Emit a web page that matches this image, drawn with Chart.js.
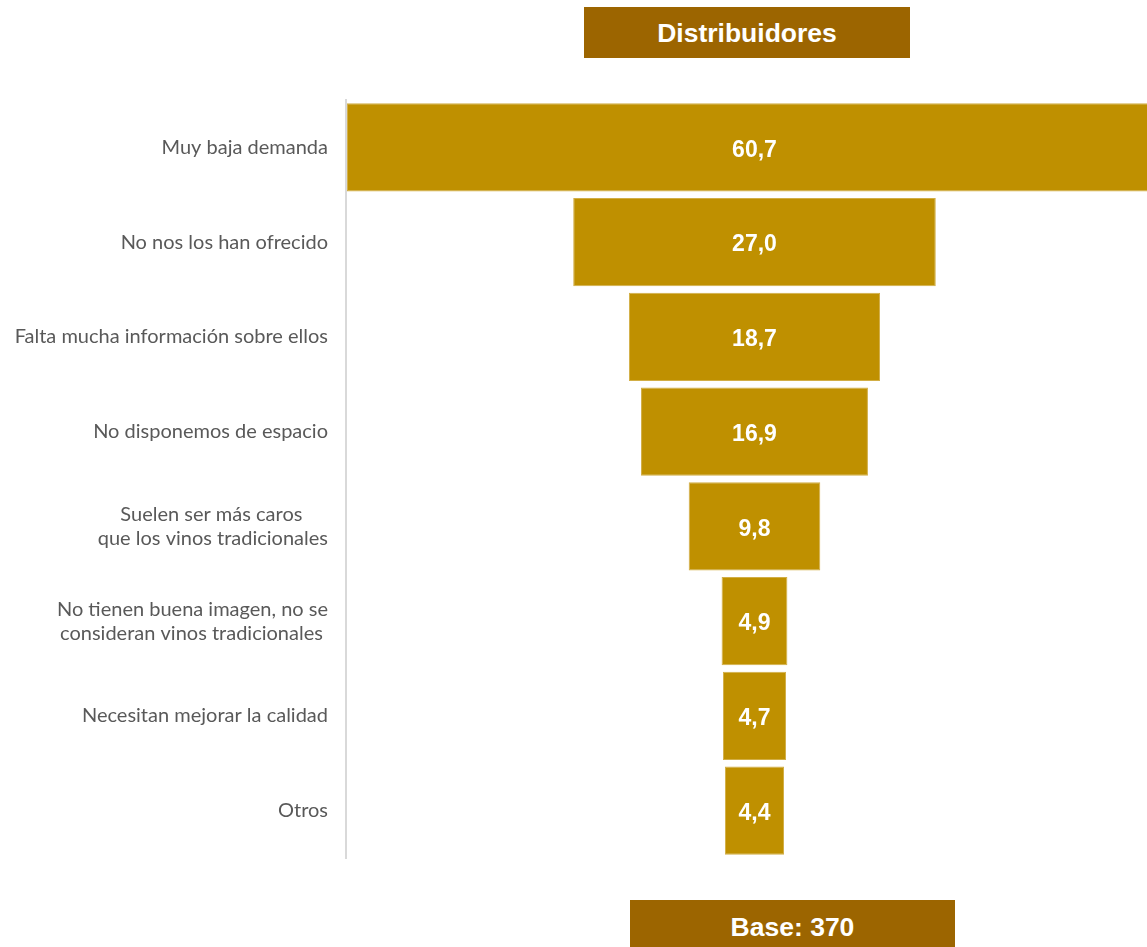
<!DOCTYPE html>
<html>
<head>
<meta charset="utf-8">
<script src="https://cdn.jsdelivr.net/npm/chart.js@4/dist/chart.umd.min.js"></script>
<style>
  html, body { margin:0; padding:0; background:#fff; }
  #wrap { position:relative; width:1147px; height:947px; overflow:hidden; }
  #chart { position:absolute; left:0; top:0; }
  .box { position:absolute; background:#9C6500; color:#fff; font-family:"Liberation Sans", Arial, sans-serif;
         font-weight:bold; text-align:center; }
  #title { left:584px; top:7px; width:326px; height:51px; line-height:53px; font-size:26.5px; }
  #base { left:630px; top:900px; width:325px; height:47px; line-height:54px; font-size:26.5px; }
</style>
</head>
<body>
<div id="wrap">
  <canvas id="chart" width="1147" height="947"></canvas>
  <div class="box" id="title">Distribuidores</div>
  <div class="box" id="base">Base: 370</div>
</div>
<script>
  // razones (Distribuidores), %
  const categories = [
    'Muy baja demanda',
    'No nos los han ofrecido',
    'Falta mucha información sobre ellos',
    'No disponemos de espacio',
    ['Suelen ser más caros     ', 'que los vinos tradicionales'],
    ['No tienen buena imagen, no se', 'consideran vinos tradicionales '],
    'Necesitan mejorar la calidad',
    'Otros'
  ];
  const values = [60.7, 27.0, 18.7, 16.9, 9.8, 4.9, 4.7, 4.4];

  // funnel: each bar centred on zero
  const spans = values.map(v => [-v / 2, v / 2]);

  const valueLabels = {
    id: 'valueLabels',
    afterDatasetsDraw(chart) {
      const ctx = chart.ctx;
      const meta = chart.getDatasetMeta(0);
      ctx.save();
      ctx.fillStyle = '#fff';
      ctx.font = 'bold 23px "Liberation Sans", Arial, sans-serif';
      ctx.textAlign = 'center';
      ctx.textBaseline = 'middle';
      meta.data.forEach((bar, i) => {
        const x = chart.scales.x.getPixelForValue(0);
        ctx.fillText(values[i].toFixed(1).replace('.', ','), x, bar.y + 3);
      });
      ctx.restore();
    }
  };

  new Chart(document.getElementById('chart'), {
    type: 'bar',
    data: {
      labels: categories,
      datasets: [{
        data: spans,
        backgroundColor: '#BF9000',
        borderColor: '#D2AE45',
        borderWidth: 1,
        borderSkipped: false,
        barPercentage: 0.93,
        categoryPercentage: 1
      }]
    },
    options: {
      indexAxis: 'y',
      responsive: false,
      animation: false,
      layout: { padding: { top: 100, bottom: 89, left: 0, right: 0 } },
      plugins: { legend: { display: false }, tooltip: { enabled: false } },
      scales: {
        x: { display: false, min: -30.42, max: 29.23 },
        y: {
          afterFit(scale) { scale.width = 346; },
          grid: { display: false, drawTicks: false },
          border: { display: true, color: '#D9D9D9', width: 2 },
          ticks: {
            color: '#595959',
            padding: 18,
            font: { family: 'Lato, "Open Sans", sans-serif', size: 20 },
            lineHeight: 1.25
          }
        }
      }
    },
    plugins: [valueLabels]
  });
</script>
</body>
</html>
